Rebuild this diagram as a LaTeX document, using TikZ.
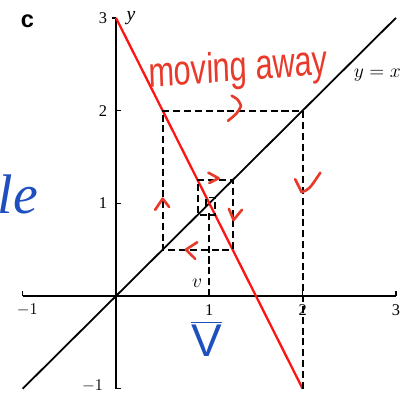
\documentclass[tikz,border=0pt]{standalone}
\usepackage{fontspec}
\setmainfont{Liberation Serif}
\setsansfont{Liberation Sans}
\usepackage{tikz}
\usetikzlibrary{positioning, calc}

\begin{document}
\begin{tikzpicture}[x=2cm, y=1.987cm]
% --- COBWEB: y = 3 - 2x E y = x ---
\definecolor{reta}{HTML}{FF1414}
\definecolor{caneta}{HTML}{E8392A}
\definecolor{azul}{HTML}{1F4FBF}
\useasboundingbox (-1.243,-1.068) rectangle (3.108,3.193);

% LAYER 1: Eixos e marcas
\draw[line width=1.3pt] (-1,0) -- (3,0);
\draw[line width=1.3pt] (0,-1) -- (0,3);
\foreach \t in {-1,1,2,3} \draw[line width=0.8pt] (\t,0) -- (\t,0.05);
\foreach \t in {-1,1,2} \draw[line width=0.8pt] (0,\t) -- (0.05,\t);
\draw[line width=0.8pt] (0,3) -- (-0.04,3);

% LAYER 2: Rotulos dos eixos
\node (xm1) at (-0.95,-0.15) {$-1$};
\foreach \t in {1,2,3} \node (x\t) at (\t,-0.15) {\t};
\foreach \t in {1,2,3} \node (y\t) at (-0.14,\t) {\t};
\node (ym1) at (-0.25,-0.97) {$-1$};
\node[font=\large] (ylab) at (0.16,3.0) {\textit{y}};
\node[font=\large] (diag) at (2.8,2.38) {$y = x$};
\node[font=\large] (vlab) at (0.87,0.14) {$v$};
\node[font=\sffamily\bfseries\Large] (painel) at (-0.95,2.96) {c};

% LAYER 3: Retas
\draw[line width=1.1pt] (-1,-1) -- (3,3);
\draw[reta, line width=1.4pt] (0,3) -- (2,-1);

% LAYER 4: Teia tracejada
\draw[line width=1.1pt, dash pattern=on 4.3pt off 2.3pt] (2,-1) -- (2,2) -- (0.5,2) -- (0.5,0.5) -- (1.25,0.5) -- (1.25,1.25) -- (0.875,1.25) -- (0.875,0.875) -- (1.0625,0.875) -- (1.0625,1.0625) -- (0.96875,1.0625) -- (0.96875,0.96875);
\draw[line width=1.1pt, dash pattern=on 4.3pt off 2.3pt] (1,0) -- (1,0.9);

% LAYER 5: Anotacoes a mao
\node[caneta, font=\sffamily\fontsize{26}{26}\selectfont, xscale=0.72, rotate=3] (longe) at (1.31,2.44) {moving away};
\draw[caneta, line width=1.6pt, line cap=round, line join=round] (1.24,2.16) .. controls (1.31,2.12) .. (1.34,2.05) .. controls (1.30,1.97) .. (1.20,1.89); % seta curva
\draw[caneta, line width=1.6pt, line cap=round, line join=round] (0.99,1.33) -- (1.10,1.27) -- (1.0,1.22);
\draw[caneta, line width=1.6pt, line cap=round, line join=round] (1.21,0.94) -- (1.26,0.82) -- (1.35,0.93);
\draw[caneta, line width=1.6pt, line cap=round, line join=round] (0.87,0.58) -- (0.75,0.50) -- (0.85,0.40);
\draw[caneta, line width=1.6pt, line cap=round, line join=round] (0.42,0.93) -- (0.50,1.05) -- (0.57,0.96);
\draw[caneta, line width=1.6pt, line cap=round, line join=round] (1.92,1.26) -- (1.99,1.12) .. controls (2.07,1.15) .. (2.19,1.33);
\node[azul, font=\itshape\fontsize{34}{34}\selectfont] (estavel) at (-1.05,1.1) {le};
\node[azul, font=\fontsize{28}{28}\selectfont] (vbar) at (0.97,-0.46) {$\overline{\textsf{V}}$};
\end{tikzpicture}
\end{document}
